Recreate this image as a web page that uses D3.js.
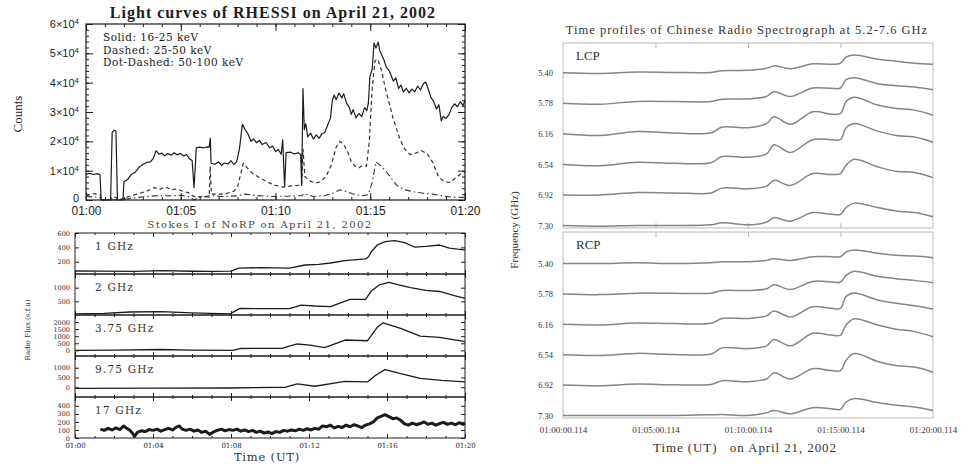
<!DOCTYPE html>
<html>
<head>
<meta charset="utf-8">
<script src="https://cdn.jsdelivr.net/npm/d3@7"></script>
<style>
  body { margin: 0; background: #fff; }
  svg { display: block; }
</style>
</head>
<body>
<script>
// ---- RHESSI light curves: [minutes after 01:00, counts] ----
const rhessiLow = [
  [0.0, 8800], [0.2, 9100], [0.4, 8700], [0.6, 9000], [0.74, 8600], [0.8, 0], [1.3, 0],
  [1.38, 23000], [1.48, 23800], [1.58, 23500], [1.66, 0], [1.95, 0], [2.0, 6200], [2.2, 7000],
  [2.4, 8800], [2.6, 9500], [2.8, 11200], [3.0, 12100], [3.2, 12800], [3.4, 13000], [3.55, 14200],
  [3.7, 16800], [3.85, 15600], [4.0, 16000], [4.15, 15100], [4.3, 15800], [4.5, 15300], [4.65, 16100],
  [4.8, 15400], [5.0, 15900], [5.15, 15000], [5.3, 15500], [5.45, 14100], [5.6, 13500], [5.7, 4200],
  [5.78, 13000], [5.82, 17800], [6.0, 18000], [6.2, 17800], [6.4, 18100], [6.5, 18000], [6.56, 21000],
  [6.6, 12500], [6.8, 12200], [7.0, 13000], [7.15, 11800], [7.3, 12600], [7.5, 12300], [7.65, 13400],
  [7.8, 12100], [7.95, 13000], [8.1, 17500], [8.25, 25800], [8.4, 24000], [8.55, 22500], [8.7, 20000],
  [8.85, 20800], [9.0, 19500], [9.15, 20300], [9.3, 18900], [9.5, 19600], [9.7, 17800], [9.85, 18400],
  [10.0, 16500], [10.15, 17200], [10.3, 15600], [10.38, 20500], [10.48, 4500], [10.56, 16200],
  [10.8, 16300], [11.0, 15700], [11.2, 16100], [11.33, 15500], [11.38, 5000], [11.45, 38000],
  [11.52, 24000], [11.6, 26000], [11.7, 21500], [11.85, 22800], [12.0, 20800], [12.15, 22200],
  [12.3, 21000], [12.45, 22600], [12.6, 23000], [12.75, 25500], [12.9, 28000], [13.0, 34000],
  [13.1, 35800], [13.2, 34200], [13.35, 36500], [13.5, 34800], [13.6, 36200], [13.75, 33000],
  [13.9, 31500], [14.0, 29200], [14.1, 30800], [14.25, 28000], [14.4, 29500], [14.55, 28400],
  [14.7, 31500], [14.82, 30500], [14.9, 33000], [14.98, 42000], [15.1, 44500], [15.2, 53500],
  [15.3, 51800], [15.42, 53800], [15.5, 51000], [15.6, 49500], [15.72, 47800], [15.85, 45200],
  [16.0, 44000], [16.1, 42500], [16.22, 40500], [16.35, 41600], [16.5, 38000], [16.62, 39200],
  [16.75, 36800], [16.9, 38100], [17.05, 36500], [17.2, 37800], [17.35, 36900], [17.5, 38800],
  [17.65, 37500], [17.8, 39600], [17.92, 40200], [18.05, 38000], [18.2, 35000], [18.35, 33500],
  [18.5, 31000], [18.62, 32500], [18.75, 27000], [18.85, 28500], [19.0, 27800], [19.15, 29000],
  [19.3, 31500], [19.45, 32800], [19.6, 31800], [19.75, 33500], [19.9, 32200], [20.0, 34000]
];
const rhessiMid = [
  [0.0, 1500], [0.4, 2200], [0.74, 1800], [0.8, 0], [1.3, 0], [1.4, 1200], [1.6, 800], [1.7, 0],
  [2.0, 600], [2.4, 1500], [2.8, 2200], [3.2, 3000], [3.6, 4200], [3.9, 3600], [4.2, 4500],
  [4.5, 3500], [4.8, 3800], [5.1, 3000], [5.4, 2500], [5.6, 1500], [5.8, 1000], [6.2, 1200],
  [6.5, 1000], [6.55, 11500], [6.62, 2000], [7.0, 2000], [7.4, 2200], [7.8, 3000], [8.0, 4500],
  [8.3, 12500], [8.5, 11000], [8.8, 9000], [9.2, 7500], [9.6, 6000], [10.0, 5000], [10.4, 4400],
  [10.8, 4800], [11.2, 5000], [11.38, 5200], [11.45, 17500], [11.55, 8000], [11.8, 6500],
  [12.1, 5800], [12.4, 6200], [12.7, 8500], [12.95, 12000], [13.2, 18000], [13.4, 20000],
  [13.6, 19000], [13.8, 16500], [14.0, 13000], [14.2, 11500], [14.4, 11000], [14.6, 11800],
  [14.8, 11500], [14.95, 20000], [15.1, 38000], [15.25, 47500], [15.4, 48000], [15.6, 44000],
  [15.8, 38000], [16.0, 33000], [16.2, 28000], [16.35, 25000], [16.55, 21000], [16.8, 17500],
  [17.1, 15500], [17.4, 16000], [17.7, 16800], [18.0, 15800], [18.3, 12800], [18.6, 8000],
  [18.9, 6200], [19.2, 6000], [19.5, 7500], [19.8, 9000], [20.0, 9500]
];
const rhessiHigh = [
  [0.0, 1200], [0.5, 1000], [0.74, 800], [0.8, 0], [2.0, 200], [2.6, 800], [3.2, 1200], [3.8, 1500],
  [4.4, 1400], [5.0, 1600], [5.5, 1000], [5.7, 0], [6.0, 800], [6.6, 1500], [7.2, 1200], [8.0, 1400],
  [8.4, 2000], [9.0, 1500], [9.8, 1200], [10.6, 1300], [11.4, 1500], [11.5, 2200], [12.0, 1200],
  [12.6, 1500], [13.0, 2200], [13.4, 3500], [13.8, 2800], [14.2, 1800], [14.6, 1500], [14.9, 1800],
  [15.1, 6000], [15.3, 13000], [15.5, 12000], [15.8, 10000], [16.1, 7500], [16.4, 5000],
  [16.8, 3500], [17.3, 2800], [17.8, 2300], [18.3, 2000], [18.8, 1400], [19.3, 1000], [20.0, 900]
];
const rhessiLegend = ["Solid: 16-25 keV", "Dashed: 25-50 keV", "Dot-Dashed: 50-100 keV"];

// ---- NoRP Stokes I: [minutes after 01:00, flux in s.f.u.] ----
const norp1GHz = [
  [0, 72], [1.5, 70], [3, 66], [4.5, 78], [6, 68], [7, 66], [8.0, 70], [8.4, 112], [9.5, 118],
  [11.0, 113], [11.8, 155], [12.5, 165], [13.1, 183], [13.85, 215], [14.9, 239], [15.05, 270],
  [15.2, 340], [15.5, 433], [15.9, 480], [16.4, 493], [16.9, 465], [17.4, 405], [18.0, 415],
  [18.7, 433], [19.2, 391], [19.6, 375], [20, 364]
];
const norp2GHz = [
  [0, 40], [1.5, 60], [2.8, 110], [4.4, 120], [6, 80], [7.95, 40], [8.46, 240], [9.5, 230],
  [11.0, 230], [11.6, 360], [12.3, 330], [13.1, 310], [14.1, 570], [14.9, 575], [15.2, 880],
  [15.6, 1100], [16.1, 1190], [16.6, 1100], [17.2, 1000], [18.0, 900], [18.7, 860], [19.4, 720], [20, 610]
];
const norp375GHz = [
  [0, 0], [2, 10], [4.4, 60], [6, 20], [8.1, 0], [8.46, 130], [10.6, 140], [11.4, 450], [12.05, 370],
  [12.8, 200], [13.85, 730], [15.0, 680], [15.5, 1630], [15.8, 1950], [16.7, 1560], [17.7, 1010],
  [18.7, 920], [20, 610]
];
const norp975GHz = [
  [0, -60], [4, -50], [8, -40], [10.8, 0], [11.4, 170], [12.3, 50], [13.85, 300], [15.0, 270],
  [15.4, 600], [15.9, 900], [16.7, 700], [17.7, 450], [18.8, 350], [20, 270]
];
const norp17GHz = [
  [1.3, 110], [1.5, 95], [1.7, 120], [1.9, 100], [2.1, 125], [2.3, 105], [2.5, 150], [2.65, 120],
  [2.8, 100], [2.95, 60], [3.05, 20], [3.2, 70], [3.4, 90], [3.6, 80], [3.8, 105], [4.0, 95],
  [4.2, 110], [4.4, 85], [4.6, 105], [4.8, 120], [5.0, 100], [5.2, 135], [5.35, 150], [5.5, 110],
  [5.7, 95], [5.9, 110], [6.1, 85], [6.3, 100], [6.5, 70], [6.7, 85], [6.9, 45], [7.1, 75],
  [7.3, 95], [7.5, 110], [7.7, 90], [7.9, 105], [8.1, 95], [8.3, 110], [8.5, 85], [8.7, 100],
  [8.9, 80], [9.1, 95], [9.3, 70], [9.5, 85], [9.7, 60], [9.9, 75], [10.1, 55], [10.3, 80],
  [10.5, 70], [10.7, 95], [10.9, 85], [11.1, 100], [11.3, 90], [11.5, 110], [11.7, 95], [11.9, 115],
  [12.1, 100], [12.3, 120], [12.5, 110], [12.7, 150], [12.9, 140], [13.1, 160], [13.3, 125],
  [13.5, 145], [13.7, 130], [13.9, 160], [14.1, 140], [14.3, 165], [14.5, 150], [14.7, 130],
  [14.9, 160], [15.1, 175], [15.3, 200], [15.5, 250], [15.7, 270], [15.9, 290], [16.1, 265],
  [16.3, 240], [16.5, 250], [16.7, 220], [16.9, 175], [17.1, 160], [17.3, 185], [17.5, 165],
  [17.7, 180], [17.9, 200], [18.1, 170], [18.3, 185], [18.5, 160], [18.7, 180], [18.9, 195],
  [19.1, 170], [19.3, 185], [19.5, 165], [19.7, 190], [19.9, 170], [20, 180]
];

// ---- Chinese Radio Spectrograph: relative flux per channel on a shared time grid ----
const crsTimes = [0, 2, 4, 6, 8, 8.6, 10, 11, 11.4, 12.3, 13.5, 14.5, 15, 15.3, 15.75, 17, 18, 19, 20];
const crsFreqs = [5.40, 5.78, 6.16, 6.54, 6.92, 7.30];
const lcp540 = [0, -0.7, 0.7, 0.3, 0.3, 2, 2.3, 4.3, 6.7, 4, 8.7, 8.3, 9.3, 15.3, 17.3, 13.3, 11.3, 9.3, 8.3];
const lcp578 = [0, -1, 1.7, 1.7, 1.7, 4, 4.3, 6.7, 11.3, 6.7, 15, 14.7, 15, 23.3, 25, 19.3, 17.3, 16, 13.3];
const lcp616 = [0, -1.7, 2.3, 0.7, 1, 6.7, 6, 10, 16.7, 9.3, 21.7, 19.3, 20, 31.7, 36, 28.3, 25, 23.3, 18.3];
const lcp654 = [0, -1.3, 2, 1, 1.7, 7.7, 7, 10.3, 19.3, 11.7, 24.3, 24.3, 24.3, 36, 40.3, 32.7, 28.3, 27, 21.7];
const lcp692 = [0, 0, 2.3, 2, 2, 6.7, 6, 8.7, 14.3, 9.3, 21, 20, 21, 29.3, 35, 27.7, 23.3, 22, 17];
const lcp730 = [0, -0.7, 0, 0, 0.7, 2.7, 0.7, 3.3, 7.7, 4.3, 12.7, 11, 11, 17.7, 22, 17.7, 14.3, 12.7, 8.7];
const rcp540 = [0, 0, 0.7, 0, 0.7, 1.7, 1.7, 3, 4.7, 3, 6.7, 6.7, 6.7, 11.3, 13.3, 10, 8, 7.3, 5.7];
const rcp578 = [0, -0.7, 0.7, 0.7, 0.7, 3.3, 3.3, 5, 9, 4.3, 12.3, 11.7, 11.7, 18.3, 22.3, 17.3, 15, 13.3, 11];
const rcp616 = [0, -0.7, 1.3, 0.7, 1, 5.7, 5.7, 8.3, 13, 7.3, 17.3, 15.7, 15.7, 27.3, 30.7, 24, 20.7, 18.3, 15];
const rcp654 = [0, -0.7, 1.3, 0.3, 0.7, 6.7, 6, 8.7, 15, 8.7, 21, 19.3, 19.3, 29.3, 35.3, 29.3, 25, 22.7, 17.7];
const rcp692 = [0, -0.7, 1, 0.3, 0.7, 4.3, 3.3, 6, 12, 6, 16, 14.3, 14.3, 24.3, 31, 23.3, 19.3, 17.7, 12.7];
const rcp730 = [0, 0, 0, 0, 0.7, 1, 0, 2.7, 5, 1.7, 7.7, 6.7, 6, 13.3, 16.7, 12.7, 10, 8.3, 5];

const W = 962, H = 464;
const ink = "#1c1c1c";
const svg = d3.select("body").append("svg").attr("width", W).attr("height", H);
svg.append("rect").attr("width", W).attr("height", H).attr("fill", "#fff");

const hm = m => `01:${String(m).padStart(2, "0")}`;

// strip d3's default axis font so our own attributes win
function tidyAxis(g, family, size) {
  g.attr("font-family", family).attr("font-size", size);
  g.select(".domain").remove();
  g.selectAll(".tick line").attr("stroke", ink);
  g.selectAll(".tick text").attr("fill", ink);
}

// ================= RHESSI (top left) =================
(function drawRhessi() {
  const x = d3.scaleLinear().domain([0, 20]).range([86, 465]);
  const y = d3.scaleLinear().domain([0, 60000]).range([200, 24]);
  const g = svg.append("g");
  const [x0, x1] = x.range(), [y0, y1] = y.range();

  g.append("rect").attr("x", x0).attr("y", y1).attr("width", x1 - x0).attr("height", y0 - y1)
    .attr("fill", "none").attr("stroke", ink).attr("stroke-width", 1.2);

  const minutes = d3.range(0, 21, 1);
  const major = [0, 5, 10, 15, 20];
  g.append("g").attr("transform", `translate(0,${y0})`)
    .call(d3.axisBottom(x).tickValues(minutes).tickSize(-3).tickFormat(""))
    .call(a => tidyAxis(a));
  g.append("g").attr("transform", `translate(0,${y0})`)
    .call(d3.axisBottom(x).tickValues(major).tickSize(-7).tickPadding(6).tickFormat(hm))
    .call(a => tidyAxis(a, "Liberation Sans", 12));
  g.append("g").attr("transform", `translate(0,${y1})`)
    .call(d3.axisTop(x).tickValues(minutes).tickSize(-3).tickFormat(""))
    .call(a => tidyAxis(a));
  g.append("g").attr("transform", `translate(0,${y1})`)
    .call(d3.axisTop(x).tickValues(major).tickSize(-7).tickFormat(""))
    .call(a => tidyAxis(a));

  const yMajor = d3.range(0, 60001, 10000);
  const yMinor = d3.range(0, 60001, 2000);
  g.append("g").attr("transform", `translate(${x0},0)`)
    .call(d3.axisLeft(y).tickValues(yMinor).tickSize(-3).tickFormat(""))
    .call(a => tidyAxis(a));
  g.append("g").attr("transform", `translate(${x1},0)`)
    .call(d3.axisRight(y).tickValues(yMinor).tickSize(-3).tickFormat(""))
    .call(a => tidyAxis(a));
  g.append("g").attr("transform", `translate(${x1},0)`)
    .call(d3.axisRight(y).tickValues(yMajor).tickSize(-7).tickFormat(""))
    .call(a => tidyAxis(a));
  const yAx = g.append("g").attr("transform", `translate(${x0},0)`)
    .call(d3.axisLeft(y).tickValues(yMajor).tickSize(-7).tickPadding(7))
    .call(a => tidyAxis(a, "Liberation Sans", 11));
  yAx.selectAll(".tick text").each(function (d) {
    const t = d3.select(this).text(null);
    if (d === 0) { t.attr("dy", "0.1em").text("0"); return; }
    t.append("tspan").text(`${d / 10000}\u00d710`);
    t.append("tspan").attr("dy", "-0.5em").attr("font-size", "0.72em").text("4");
  });

  const line = d3.line().x(d => x(d[0])).y(d => y(d[1]));
  g.append("path").datum(rhessiHigh).attr("d", line).attr("fill", "none")
    .attr("stroke", "#333").attr("stroke-width", 1.1).attr("stroke-dasharray", "6,3,1.5,3");
  g.append("path").datum(rhessiMid).attr("d", line).attr("fill", "none")
    .attr("stroke", "#333").attr("stroke-width", 1.2).attr("stroke-dasharray", "4,3");
  g.append("path").datum(rhessiLow).attr("d", line).attr("fill", "none")
    .attr("stroke", ink).attr("stroke-width", 1.2).attr("stroke-linejoin", "round");

  g.append("text").attr("x", 273).attr("y", 18).attr("text-anchor", "middle")
    .attr("font-family", "Liberation Serif").attr("font-weight", "bold").attr("font-size", 16)
    .attr("letter-spacing", 1).attr("fill", ink).text("Light curves of RHESSI on April 21, 2002");

  g.selectAll(".legend").data(rhessiLegend).join("text")
    .attr("x", 103).attr("y", (d, i) => 41 + i * 12.5)
    .attr("font-family", "DejaVu Serif").attr("font-size", 10.5).attr("letter-spacing", 0.5)
    .attr("fill", ink).text(d => d);

  g.append("text").attr("transform", "translate(22,114) rotate(-90)").attr("text-anchor", "middle")
    .attr("font-family", "Liberation Serif").attr("font-size", 13).attr("fill", ink).text("Counts");
})();

// ================= NoRP (bottom left) =================
(function drawNorp() {
  const x = d3.scaleLinear().domain([0, 20]).range([75, 465]);
  const panelH = 41, firstTop = 233;
  const panels = [
    { label: "1 GHz", data: norp1GHz, domain: [30, 600], ticks: [200, 400, 600], width: 1.3 },
    { label: "2 GHz", data: norp2GHz, domain: [0, 1500], ticks: [500, 1000], width: 1.3 },
    { label: "3.75 GHz", data: norp375GHz, domain: [-400, 2500], ticks: [0, 500, 1000, 1500, 2000], width: 1.3 },
    { label: "9.75 GHz", data: norp975GHz, domain: [-500, 1600], ticks: [0, 500, 1000], width: 1.3 },
    { label: "17 GHz", data: norp17GHz, domain: [0, 510], ticks: [0, 100, 200, 300, 400], width: 3 }
  ];
  const g = svg.append("g");
  const [x0, x1] = x.range();
  const minutes = d3.range(0, 21, 1);
  const major = d3.range(0, 21, 4);

  panels.forEach((p, i) => {
    const top = firstTop + i * panelH, bottom = top + panelH;
    const y = d3.scaleLinear().domain(p.domain).range([bottom, top]);
    const pg = g.append("g");
    pg.append("rect").attr("x", x0).attr("y", top).attr("width", x1 - x0).attr("height", panelH)
      .attr("fill", "none").attr("stroke", ink).attr("stroke-width", 1);

    [[d3.axisBottom, bottom], [d3.axisTop, top]].forEach(([ax, pos]) => {
      pg.append("g").attr("transform", `translate(0,${pos})`)
        .call(ax(x).tickValues(minutes).tickSize(-2).tickFormat("")).call(a => tidyAxis(a));
      pg.append("g").attr("transform", `translate(0,${pos})`)
        .call(ax(x).tickValues(major).tickSize(-4).tickFormat("")).call(a => tidyAxis(a));
    });
    pg.append("g").attr("transform", `translate(${x0},0)`)
      .call(d3.axisLeft(y).tickValues(p.ticks).tickSize(-4).tickPadding(5).tickFormat(d3.format("d")))
      .call(a => tidyAxis(a, "DejaVu Serif", 6.5));
    pg.append("g").attr("transform", `translate(${x1},0)`)
      .call(d3.axisRight(y).tickValues(p.ticks).tickSize(-4).tickFormat(""))
      .call(a => tidyAxis(a));

    pg.append("path").datum(p.data)
      .attr("d", d3.line().x(d => x(d[0])).y(d => y(d[1])))
      .attr("fill", "none").attr("stroke", ink).attr("stroke-width", p.width).attr("stroke-linejoin", "round");

    pg.append("text").attr("x", 95).attr("y", top + 17)
      .attr("font-family", "DejaVu Serif").attr("font-size", 10.5).attr("letter-spacing", 1.2)
      .attr("fill", "#333").text(p.label);

    if (i === panels.length - 1) {
      pg.append("g").attr("transform", `translate(0,${bottom})`)
        .call(d3.axisBottom(x).tickValues(major).tickSize(0).tickPadding(5).tickFormat(hm))
        .call(a => tidyAxis(a, "DejaVu Serif", 7));
    }
  });

  g.append("text").attr("x", 260).attr("y", 228).attr("text-anchor", "middle")
    .attr("font-family", "DejaVu Serif").attr("font-size", 10).attr("letter-spacing", 1.4)
    .attr("fill", "#444").text("Stokes I of NoRP on April 21, 2002");
  g.append("text").attr("x", 267).attr("y", 461).attr("text-anchor", "middle")
    .attr("font-family", "DejaVu Serif").attr("font-size", 11.5).attr("letter-spacing", 0.8)
    .attr("fill", "#333").text("Time (UT)");
  g.append("text").attr("transform", "translate(30,330) rotate(-90)").attr("text-anchor", "middle")
    .attr("font-family", "DejaVu Serif").attr("font-size", 7).attr("fill", "#333").text("Radio Flux (s.f.u)");
})();

// ================= CRS (right) =================
(function drawCrs() {
  const x = d3.scaleLinear().domain([0, 20]).range([563, 933]);
  const amp = d3.scaleLinear().domain([0, 30]).range([0, 30.5]);
  const frame = "#b9b9b9", trace = "#858585", text = "#333";
  const panels = [
    { label: "LCP", top: 43, bottom: 228, yRange: [72.7, 225.5], series: [lcp540, lcp578, lcp616, lcp654, lcp692, lcp730] },
    { label: "RCP", top: 232, bottom: 418, yRange: [263.5, 415.5], series: [rcp540, rcp578, rcp616, rcp654, rcp692, rcp730] }
  ];
  const g = svg.append("g");
  const [x0, x1] = x.range();

  panels.forEach((p, pi) => {
    const yf = d3.scaleLinear().domain([crsFreqs[0], crsFreqs[crsFreqs.length - 1]]).range(p.yRange);
    const pg = g.append("g");
    pg.append("rect").attr("x", x0).attr("y", p.top).attr("width", x1 - x0).attr("height", p.bottom - p.top)
      .attr("fill", "none").attr("stroke", frame).attr("stroke-width", 1);
    pg.append("g").attr("transform", `translate(0,${p.top})`)
      .call(d3.axisTop(x).tickValues([5, 10, 15]).tickSize(-5).tickFormat(""))
      .call(a => { tidyAxis(a); a.selectAll("line").attr("stroke", frame); });
    if (pi === 0) {
      pg.append("g").attr("transform", `translate(0,${p.bottom})`)
        .call(d3.axisBottom(x).tickValues([5, 10, 15]).tickSize(-5).tickFormat(""))
        .call(a => { tidyAxis(a); a.selectAll("line").attr("stroke", frame); });
    }
    pg.append("g").attr("transform", `translate(${x0},0)`)
      .call(d3.axisLeft(yf).tickValues(crsFreqs).tickSize(0).tickPadding(10).tickFormat(d3.format(".2f")))
      .call(a => { tidyAxis(a, "Liberation Serif", 8.5); a.selectAll("text").attr("fill", text); });

    const line = d3.line().curve(d3.curveCatmullRom.alpha(0.5));
    p.series.forEach((vals, k) => {
      const base = yf(crsFreqs[k]);
      pg.append("path")
        .attr("d", line(vals.map((v, j) => [x(crsTimes[j]), base - amp(v)])))
        .attr("fill", "none").attr("stroke", trace).attr("stroke-width", 1.5);
    });

    pg.append("text").attr("x", 576).attr("y", p.top + 17)
      .attr("font-family", "Liberation Serif").attr("font-size", 13).attr("fill", text).text(p.label);
  });

  g.append("g").attr("transform", `translate(0,418)`)
    .call(d3.axisBottom(x).tickValues([0, 5, 10, 15, 20]).tickSize(0).tickPadding(9)
      .tickFormat(m => `${hm(m)}:00.114`))
    .call(a => { tidyAxis(a, "Liberation Serif", 9); a.selectAll("text").attr("fill", text); });

  g.append("text").attr("x", 747).attr("y", 34).attr("text-anchor", "middle")
    .attr("font-family", "Liberation Serif").attr("font-size", 12.5).attr("letter-spacing", 1)
    .attr("fill", text).text("Time profiles of Chinese Radio Spectrograph at 5.2-7.6 GHz");
  g.append("text").attr("x", 745).attr("y", 452).attr("text-anchor", "middle")
    .attr("font-family", "Liberation Serif").attr("font-size", 13).attr("letter-spacing", 0.9)
    .attr("fill", text).attr("xml:space", "preserve").text("Time (UT)   on April 21, 2002");
  g.append("text").attr("transform", "translate(518,230) rotate(-90)").attr("text-anchor", "middle")
    .attr("font-family", "Liberation Serif").attr("font-size", 11).attr("fill", text).text("Frequency (GHz)");
})();
</script>
</body>
</html>
